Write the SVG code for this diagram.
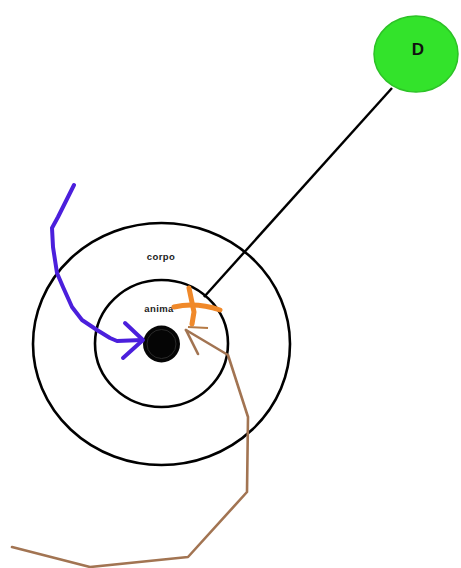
<svg xmlns="http://www.w3.org/2000/svg" width="461" height="568" viewBox="0 0 461 568">
<style>
.ring{fill:none;stroke:#000;stroke-width:2.6}
.lbl{font-family:"Liberation Sans",Arial,sans-serif;font-weight:bold;font-size:9.5px;fill:#222;text-anchor:middle;letter-spacing:0.4px}
.blue{fill:none;stroke:#4b1fdc;stroke-width:4;stroke-linecap:round;stroke-linejoin:round}
.brown{fill:none;stroke:#a27452;stroke-width:2.6;stroke-linecap:round;stroke-linejoin:round}
.orange{fill:none;stroke:#f0892a;stroke-width:5;stroke-linecap:round;stroke-linejoin:round}
</style>
<rect width="461" height="568" fill="#fff"/>
<g id="corpo">
<ellipse class="ring" cx="161.5" cy="344" rx="128.5" ry="121"/>
<text class="lbl" x="161" y="260">corpo</text>
</g>
<g id="anima">
<ellipse class="ring" cx="161.5" cy="343.5" rx="66.5" ry="63.5"/>
<text class="lbl" x="159" y="312">anima</text>
</g>
<g id="centro">
<circle cx="161.5" cy="344" r="18.5" fill="#050505"/>
<circle cx="161.5" cy="344" r="14.5" fill="none" stroke="#2a2a2a" stroke-width="1"/>
</g>
<g id="D">
<ellipse cx="416" cy="54" rx="42" ry="38" fill="#33e32b" stroke="#2cc226" stroke-width="1.5"/>
<text x="418" y="55" font-family="'Liberation Sans',Arial,sans-serif" font-weight="bold" font-size="17" fill="#111" text-anchor="middle">D</text>
</g>
<g id="connectors">
<line x1="392" y1="88" x2="204" y2="297" stroke="#000" stroke-width="2.4"/>
<polyline class="blue" points="74,185 58,217 52,228 53,247 57,273 63,287 72,307 82,320 97,330 110,338 117,341 142,340"/>
<polyline class="blue" points="125,323 143,340 123,358"/>
<polyline class="brown" points="12,547 90,567 188,557 247,492 248,417 228,355 186,330"/>
<polyline class="brown" points="198,354 186,330"/>
<path class="orange" d="M174,307 Q196,302 220,310"/>
<path class="orange" d="M189,288 L194,312 L192,324"/>
<line x1="188" y1="327" x2="208" y2="328" stroke="#b57a45" stroke-width="2"/>
</g>
</svg>
